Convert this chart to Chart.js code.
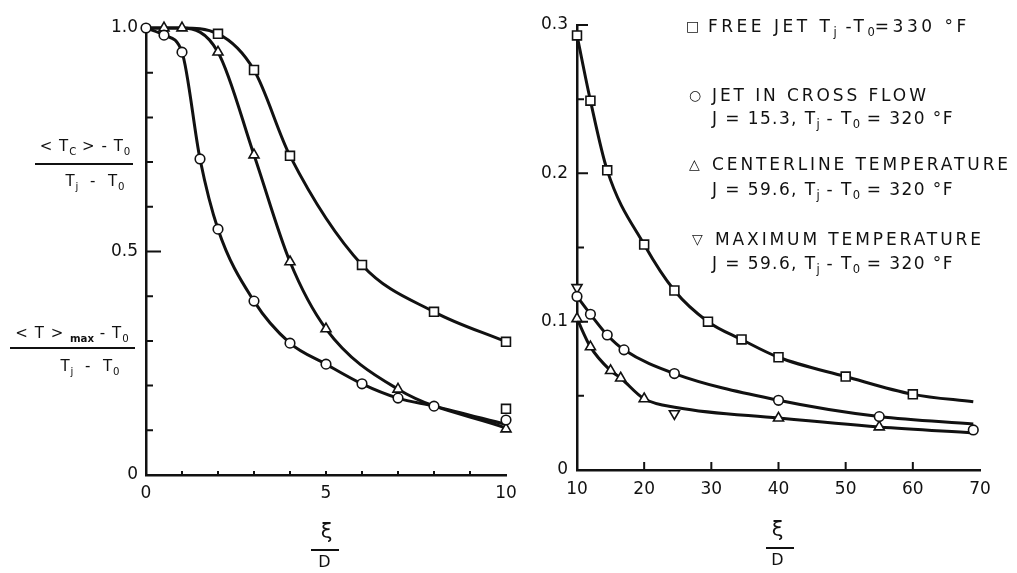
<!DOCTYPE html>
<html><head><meta charset="utf-8">
<script src="https://cdn.jsdelivr.net/npm/chart.js@4.4.0/dist/chart.umd.min.js"></script>
<style>
html,body{margin:0;padding:0;background:#fff;}
#wrap{position:relative;width:1017px;height:573px;overflow:hidden;font-family:"DejaVu Sans",sans-serif;color:#111;}
canvas{position:absolute;top:0;}
.t{position:absolute;white-space:nowrap;line-height:1;font-size:17px;letter-spacing:2.9px;}
.j{letter-spacing:1.4px;}
.c{position:absolute;white-space:nowrap;line-height:1;font-size:15px;text-align:center;letter-spacing:1px;}
.bar{position:absolute;height:2px;background:#111;}
.g{position:absolute;line-height:1;font-size:14px;}
sub{font-size:68%;vertical-align:-0.35em;letter-spacing:0;}
</style></head><body>
<div id="wrap">
<canvas id="cl" width="520" height="573" style="left:0"></canvas>
<canvas id="cr" width="497" height="573" style="left:520px"></canvas>

<!-- left y-axis titles -->
<div class="c" style="left:30px;top:139px;width:110px;">&lt; T<sub>C</sub> &gt; - T<sub>0</sub></div>
<div class="bar" style="left:35px;top:163px;width:98px;"></div>
<div class="c" style="left:40px;top:174px;width:110px;">T<sub>j</sub> &nbsp;-&nbsp; T<sub>0</sub></div>

<div class="c" style="left:8px;top:326px;width:128px;">&lt; T &gt; <sub style="font-weight:bold">max</sub> - T<sub>0</sub></div>
<div class="bar" style="left:10px;top:347px;width:125px;"></div>
<div class="c" style="left:35px;top:359px;width:110px;">T<sub>j</sub> &nbsp;-&nbsp; T<sub>0</sub></div>

<!-- x titles -->
<div class="c" style="left:307px;top:521px;width:40px;font-size:21px;">ξ</div>
<div class="bar" style="left:311px;top:549px;width:28px;"></div>
<div class="c" style="left:305px;top:554px;width:40px;font-size:16px;">D</div>

<div class="c" style="left:758px;top:519px;width:40px;font-size:21px;">ξ</div>
<div class="bar" style="left:766px;top:547px;width:28px;"></div>
<div class="c" style="left:758px;top:552px;width:40px;font-size:16px;">D</div>

<!-- legend -->
<div class="g" style="left:686px;top:19px;">□</div>
<div class="t" style="left:708px;top:18px;letter-spacing:3.5px;">FREE JET T<sub>j</sub> -T<sub>0</sub>=330 °F</div>
<div class="g" style="left:689px;top:88px;">○</div>
<div class="t" style="left:712px;top:87px;">JET IN CROSS FLOW</div>
<div class="t j" style="left:712px;top:110px;">J = 15.3, T<sub>j</sub> - T<sub>0</sub> = 320 °F</div>
<div class="g" style="left:689px;top:157px;">△</div>
<div class="t" style="left:712px;top:156px;">CENTERLINE TEMPERATURE</div>
<div class="t j" style="left:712px;top:181px;">J = 59.6, T<sub>j</sub> - T<sub>0</sub> = 320 °F</div>
<div class="g" style="left:692px;top:232px;">▽</div>
<div class="t" style="left:715px;top:231px;">MAXIMUM TEMPERATURE</div>
<div class="t j" style="left:712px;top:255px;">J = 59.6, T<sub>j</sub> - T<sub>0</sub> = 320 °F</div>
</div>

<script>
// ---------- LEFT PANEL DATA (xi/D from 0 to 10) ----------
const leftFreeCurveX = [0, 1, 2, 3, 4, 6, 8, 10];
const leftFreeCurveY = [1.0, 1.0, 0.987, 0.906, 0.714, 0.47, 0.365, 0.298];
const leftFreeMarkX  = [2, 3, 4, 6, 8, 10, 10];
const leftFreeMarkY  = [0.987, 0.906, 0.714, 0.47, 0.365, 0.298, 0.148];

const leftCrossCurveX = [0, 0.5, 1, 1.5, 2, 3, 4, 5, 6, 7, 8, 10];
const leftCrossCurveY = [1.0, 0.984, 0.946, 0.707, 0.55, 0.389, 0.295, 0.248, 0.204, 0.172, 0.154, 0.113];
const leftCrossMarkX  = [0, 0.5, 1, 1.5, 2, 3, 4, 5, 6, 7, 8, 10];
const leftCrossMarkY  = [1.0, 0.984, 0.946, 0.707, 0.55, 0.389, 0.295, 0.248, 0.204, 0.172, 0.154, 0.123];

const leftCenterCurveX = [0, 0.5, 1, 2, 3, 4, 5, 7, 10];
const leftCenterCurveY = [1.0, 1.0, 1.0, 0.946, 0.716, 0.477, 0.327, 0.192, 0.105];
const leftCenterMarkX  = [0.5, 1, 2, 3, 4, 5, 7, 10];
const leftCenterMarkY  = [1.0, 1.0, 0.946, 0.716, 0.477, 0.327, 0.192, 0.103];

const leftXTickValues = [0, 5, 10];
const leftXTickLabels = ['0', '5', '10'];
const leftYTickValues = [0, 0.5, 1.0];
const leftYTickLabels = ['0', '0.5', '1.0'];
const leftXMinor = [1, 2, 3, 4, 5, 6, 7, 8, 9];
const leftYMinor = [0.1, 0.2, 0.3, 0.4, 0.6, 0.7, 0.8, 0.9];
const leftYMajor = [0.5];

// ---------- RIGHT PANEL DATA (xi/D from 10 to 70) ----------
const rightFreeCurveX = [10, 12, 14.5, 20, 24.5, 29.5, 34.5, 40, 50, 60, 69];
const rightFreeCurveY = [0.293, 0.249, 0.202, 0.152, 0.121, 0.100, 0.088, 0.076, 0.063, 0.051, 0.046];
const rightFreeMarkX  = [10, 12, 14.5, 20, 24.5, 29.5, 34.5, 40, 50, 60];
const rightFreeMarkY  = [0.293, 0.249, 0.202, 0.152, 0.121, 0.100, 0.088, 0.076, 0.063, 0.051];

const rightCrossCurveX = [10, 12, 14.5, 17, 24.5, 40, 55, 69];
const rightCrossCurveY = [0.117, 0.105, 0.091, 0.081, 0.065, 0.047, 0.036, 0.031];
const rightCrossMarkX  = [10, 12, 14.5, 17, 24.5, 40, 55, 69];
const rightCrossMarkY  = [0.117, 0.105, 0.091, 0.081, 0.065, 0.047, 0.036, 0.027];

const rightCenterCurveX = [10, 12, 15, 16.5, 20, 25, 40, 55, 69];
const rightCenterCurveY = [0.102, 0.083, 0.067, 0.062, 0.048, 0.042, 0.035, 0.029, 0.025];
const rightCenterMarkX  = [10, 12, 15, 16.5, 20, 40, 55];
const rightCenterMarkY  = [0.102, 0.083, 0.067, 0.062, 0.048, 0.035, 0.029];

const rightMaxMarkX = [10, 24.5];
const rightMaxMarkY = [0.123, 0.038];

const rightXTickValues = [10, 20, 30, 40, 50, 60, 70];
const rightXTickLabels = ['10', '20', '30', '40', '50', '60', '70'];
const rightYTickValues = [0, 0.1, 0.2, 0.3];
const rightYTickLabels = ['0', '0.1', '0.2', '0.3'];
const rightXMinor = [20, 30, 40, 50, 60];
const rightYMinor = [0.05, 0.15, 0.25];
const rightYMajor = [0.1, 0.2, 0.3];

// ---------- helpers ----------
const pts = (xs, ys) => xs.map((x, i) => ({x: x, y: ys[i]}));
const INK = '#111';

function curve(xs, ys) {
  return {type: 'line', data: pts(xs, ys), borderColor: INK, borderWidth: 3,
    pointRadius: 0, cubicInterpolationMode: 'monotone', fill: false, order: 2, clip: false};
}
function marks(xs, ys, style, radius, rotation) {
  return {type: 'line', data: pts(xs, ys), showLine: false, pointStyle: style,
    pointRadius: radius, pointRotation: rotation || 0, pointBackgroundColor: '#fff',
    pointBorderColor: INK, pointBorderWidth: 1.6, order: 0, clip: false};
}

const inTicks = {
  id: 'inTicks',
  afterDraw(chart, args, o) {
    const ctx = chart.ctx, xs = chart.scales.x, ys = chart.scales.y;
    ctx.save();
    ctx.strokeStyle = INK; ctx.lineWidth = 2;
    const left = chart.chartArea.left, bottom = chart.chartArea.bottom;
    ctx.beginPath();
    o.xMinor.forEach(v => { const p = xs.getPixelForValue(v); ctx.moveTo(p, bottom); ctx.lineTo(p, bottom - o.xLen); });
    o.yMinor.forEach(v => { const p = ys.getPixelForValue(v); ctx.moveTo(left, p); ctx.lineTo(left + o.yLen, p); });
    o.yMajor.forEach(v => { const p = ys.getPixelForValue(v); ctx.moveTo(left, p); ctx.lineTo(left + o.yMajLen, p); });
    ctx.stroke();
    ctx.restore();
  }
};

function makeChart(id, cfg) {
  return new Chart(document.getElementById(id), {
    type: 'line',
    data: {datasets: cfg.datasets},
    plugins: [inTicks],
    options: {
      responsive: false, animation: false, devicePixelRatio: 1,
      layout: {padding: cfg.padding},
      plugins: {legend: {display: false}, tooltip: {enabled: false},
        inTicks: cfg.ticks},
      scales: {
        x: {type: 'linear', min: cfg.xMin, max: cfg.xMax,
          grid: {display: false, drawTicks: false},
          border: {display: true, color: INK, width: 2.5},
          afterBuildTicks: s => { s.ticks = cfg.xVals.map(v => ({value: v})); },
          afterFit: s => { s.height = cfg.xH; s.paddingLeft = 0; s.paddingRight = 0; },
          ticks: {padding: cfg.xPad, color: INK, font: {family: 'DejaVu Sans', size: 17},
            maxRotation: 0, autoSkip: false,
            callback: v => { const i = cfg.xVals.indexOf(v); return i >= 0 ? cfg.xLabs[i] : ''; }}},
        y: {type: 'linear', min: cfg.yMin, max: cfg.yMax,
          grid: {display: false, drawTicks: false},
          border: {display: true, color: INK, width: 2.5},
          afterBuildTicks: s => { s.ticks = cfg.yVals.map(v => ({value: v})); },
          afterFit: s => { s.width = cfg.yW; s.paddingTop = 0; s.paddingBottom = 0; },
          ticks: {padding: cfg.yPad, color: INK, font: {family: 'DejaVu Sans', size: 17}, autoSkip: false,
            callback: v => { const i = cfg.yVals.indexOf(v); return i >= 0 ? cfg.yLabs[i] : ''; }}}
      }
    }
  });
}

makeChart('cl', {
  datasets: [
    curve(leftFreeCurveX, leftFreeCurveY),
    curve(leftCrossCurveX, leftCrossCurveY),
    curve(leftCenterCurveX, leftCenterCurveY),
    marks(leftFreeMarkX, leftFreeMarkY, 'rect', 6.3),
    marks(leftCrossMarkX, leftCrossMarkY, 'circle', 4.8),
    marks(leftCenterMarkX, leftCenterMarkY, 'triangle', 5.8)
  ],
  padding: {top: 28, right: 14, left: 0, bottom: 0},
  xMin: 0, xMax: 10, yMin: 0, yMax: 1.0,
  xVals: leftXTickValues, xLabs: leftXTickLabels,
  yVals: leftYTickValues, yLabs: leftYTickLabels,
  xH: 98, yW: 146, xPad: 8, yPad: 8,
  ticks: {xMinor: leftXMinor, yMinor: leftYMinor, yMajor: leftYMajor, xLen: 4, yLen: 7, yMajLen: 15}
});

makeChart('cr', {
  datasets: [
    curve(rightFreeCurveX, rightFreeCurveY),
    curve(rightCrossCurveX, rightCrossCurveY),
    curve(rightCenterCurveX, rightCenterCurveY),
    marks(rightFreeMarkX, rightFreeMarkY, 'rect', 6.3),
    marks(rightCrossMarkX, rightCrossMarkY, 'circle', 4.8),
    marks(rightCenterMarkX, rightCenterMarkY, 'triangle', 5.8),
    marks(rightMaxMarkX, rightMaxMarkY, 'triangle', 5.8, 180)
  ],
  padding: {top: 25, right: 37, left: 0, bottom: 0},
  xMin: 10, xMax: 70, yMin: 0, yMax: 0.3,
  xVals: rightXTickValues, xLabs: rightXTickLabels,
  yVals: rightYTickValues, yLabs: rightYTickLabels,
  xH: 103, yW: 57, xPad: 9, yPad: 9,
  ticks: {xMinor: rightXMinor, yMinor: rightYMinor, yMajor: rightYMajor, xLen: 8, yLen: 7, yMajLen: 11}
});
</script>
</body></html>
